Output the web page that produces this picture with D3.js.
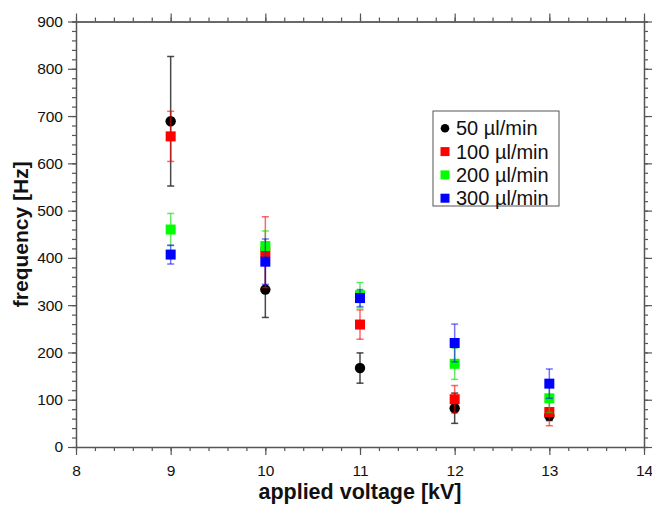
<!DOCTYPE html>
<html lang="en">

<head>
    <meta charset="UTF-8">
    <title>frequency vs applied voltage</title>
    <script src="https://d3js.org/d3.v7.min.js"></script>
    <style>
        body { margin: 0; background: #fff; }
        text { font-family: "Liberation Sans", Arial, sans-serif; fill: #111; }
        .tick text { font-size: 15.5px; }
        .axis path, .axis line { stroke: #555; }
    </style>
</head>

<body>
    <svg width="652" height="506" id="svg1"></svg>

    <script>
        // data
        const voltages = [9, 10, 11, 12, 13];
        const seriesNames = ["50 µl/min", "100 µl/min", "200 µl/min", "300 µl/min"];
        const freq50 = [689, 333, 167, 82, 66];
        const err50 = [137, 59, 32, 32, 10];
        const freq100 = [657, 412, 259, 101, 74];
        const err100 = [53, 75, 31, 29, 29];
        const freq200 = [460, 425, 321, 176, 103];
        const err200 = [34, 32, 27, 33, 30];
        const freq300 = [407, 392, 315, 220, 134];
        const err300 = [20, 48, 18, 40, 31];
        const xTicks = [8, 9, 10, 11, 12, 13, 14];
        const yTicks = [0, 100, 200, 300, 400, 500, 600, 700, 800, 900];

        const svg = d3.select('#svg1');
        const margin = { top: 21.5, right: 644, bottom: 447, left: 76 };

        const x = d3.scaleLinear().domain([8, 14]).range([margin.left, margin.right]);
        const y = d3.scaleLinear().domain([0, 900]).range([margin.bottom, margin.top]);

        const colors = ['#000000', '#ff0000', '#00ff00', '#0000ff'];
        const errColors = ['rgba(40,40,40,0.85)', 'rgba(255,0,0,0.6)', 'rgba(0,220,0,0.6)', 'rgba(0,0,255,0.55)'];
        const allVals = [freq50, freq100, freq200, freq300];
        const allErrs = [err50, err100, err200, err300];

        const series = seriesNames.map((name, i) => ({
            name: name,
            color: colors[i],
            errColor: errColors[i],
            shape: i === 0 ? 'circle' : 'square',
            points: voltages.map((v, j) => ({ v: v, f: allVals[i][j], e: allErrs[i][j] }))
        }));

        // axes: minor ticks every 0.2 kV / 20 Hz, majors labelled on bottom and left
        const minorX = d3.range(8, 14.001, 0.2);
        const minorY = d3.range(0, 900.1, 20);

        const drawAxis = (axisFn, scale, minor, major, transform, labels, pad) => {
            svg.append('g').attr('class', 'axis').attr('transform', transform)
                .call(axisFn(scale).tickValues(minor).tickSize(4).tickFormat(''))
                .call(g => g.selectAll('.tick line').attr('stroke-width', 1.2));
            const g = svg.append('g').attr('class', 'axis').attr('transform', transform)
                .call(axisFn(scale).tickValues(major).tickSize(8).tickSizeOuter(0)
                    .tickPadding(pad).tickFormat(labels ? d3.format('d') : ''));
            g.select('.domain').attr('stroke-width', 1.5);
            g.selectAll('.tick line').attr('stroke-width', 1.2);
            return g;
        };

        drawAxis(d3.axisBottom, x, minorX, xTicks, `translate(0,${margin.bottom})`, true, 10);
        drawAxis(d3.axisTop, x, minorX, xTicks, `translate(0,${margin.top})`, false, 4);
        drawAxis(d3.axisLeft, y, minorY, yTicks, `translate(${margin.left},0)`, true, 5);
        drawAxis(d3.axisRight, y, minorY, yTicks, `translate(${margin.right},0)`, false, 4);

        // axis titles
        svg.append('text')
            .attr('x', (x(8) + x(14)) / 2)
            .attr('y', 499)
            .attr('text-anchor', 'middle')
            .style('font-size', '21.5px')
            .style('font-weight', 'bold')
            .text('applied voltage [kV]');

        svg.append('text')
            .attr('transform', `translate(28,${(y(0) + y(900)) / 2}) rotate(-90)`)
            .attr('text-anchor', 'middle')
            .style('font-size', '21px')
            .style('font-weight', 'bold')
            .text('frequency [Hz]');

        // error bars then markers, series after series
        const cap = 3.5;
        series.forEach(s => {
            const g = svg.append('g');
            const eb = g.selectAll('.err').data(s.points).enter().append('g')
                .attr('stroke', s.errColor).attr('stroke-width', 1.5);
            eb.append('line')
                .attr('x1', d => x(d.v)).attr('x2', d => x(d.v))
                .attr('y1', d => y(d.f + d.e)).attr('y2', d => y(d.f - d.e));
            eb.append('line')
                .attr('x1', d => x(d.v) - cap).attr('x2', d => x(d.v) + cap)
                .attr('y1', d => y(d.f + d.e)).attr('y2', d => y(d.f + d.e));
            eb.append('line')
                .attr('x1', d => x(d.v) - cap).attr('x2', d => x(d.v) + cap)
                .attr('y1', d => y(d.f - d.e)).attr('y2', d => y(d.f - d.e));

            if (s.shape === 'circle') {
                g.selectAll('circle').data(s.points).enter().append('circle')
                    .attr('cx', d => x(d.v)).attr('cy', d => y(d.f))
                    .attr('r', 5.2).attr('fill', s.color);
            } else {
                g.selectAll('rect').data(s.points).enter().append('rect')
                    .attr('x', d => x(d.v) - 5).attr('y', d => y(d.f) - 5)
                    .attr('width', 10).attr('height', 10).attr('fill', s.color);
            }
        });

        // legend
        const legend = svg.append('g').attr('transform', 'translate(433,111)');
        legend.append('rect')
            .attr('width', 126).attr('height', 95)
            .attr('fill', '#fff').attr('stroke', '#555').attr('stroke-width', 1);
        series.forEach((s, i) => {
            const cy = 17.3 + i * 23.3;
            if (s.shape === 'circle') {
                legend.append('circle').attr('cx', 12).attr('cy', cy).attr('r', 4.3).attr('fill', s.color);
            } else {
                legend.append('rect').attr('x', 7.5).attr('y', cy - 4.5)
                    .attr('width', 9).attr('height', 9).attr('fill', s.color);
            }
            legend.append('text')
                .attr('x', 23).attr('y', cy + 7)
                .style('font-size', '20px')
                .text(s.name);
        });
    </script>
</body>

</html>
